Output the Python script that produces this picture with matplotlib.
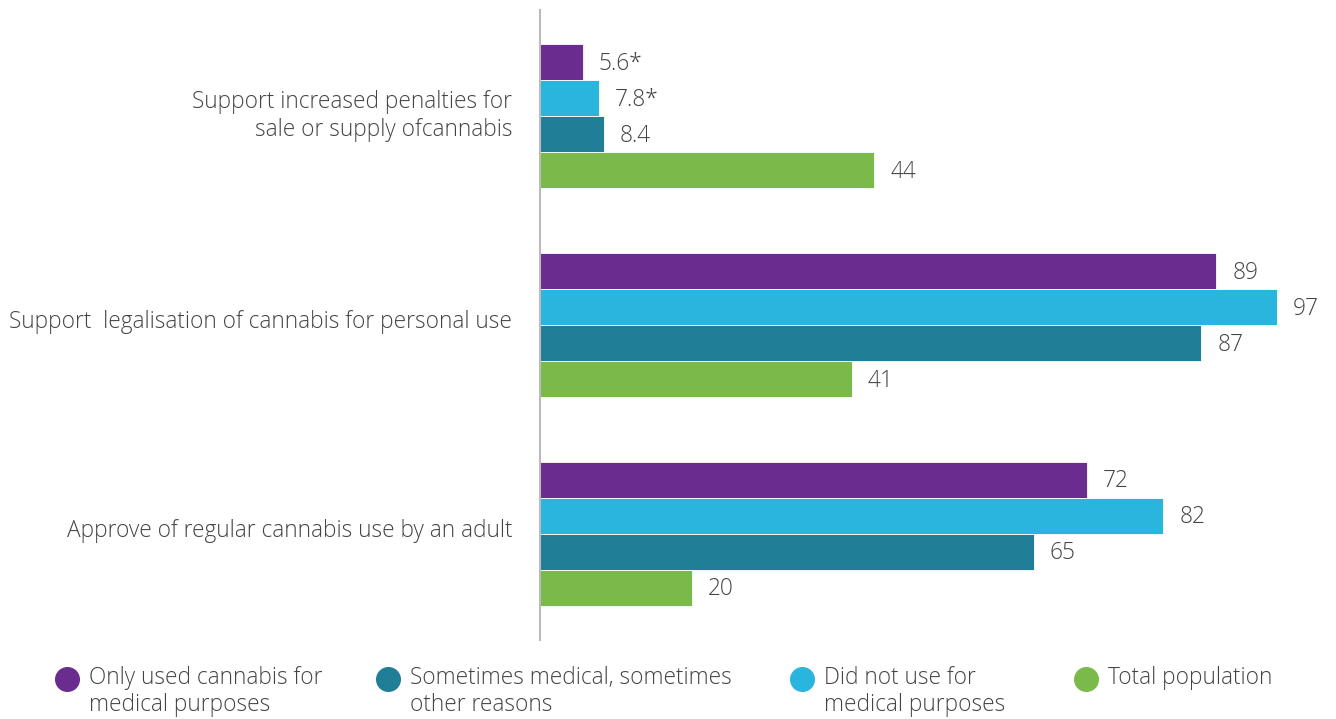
import numpy as np
import matplotlib
matplotlib.use("Agg")
import matplotlib.pyplot as plt
from matplotlib.lines import Line2D

plt.rcParams['font.family'] = ['Open Sans', 'DejaVu Sans']

categories = ["Support increased penalties for\nsale or supply ofcannabis",
              "Support  legalisation of cannabis for personal use",
              "Approve of regular cannabis use by an adult"]
series_names = ["Only used cannabis for\nmedical purposes",
                "Did not use for\nmedical purposes",
                "Sometimes medical, sometimes\nother reasons",
                "Total population"]
only_medical = [5.6, 89, 72]
not_medical = [7.8, 97, 82]
sometimes = [8.4, 87, 65]
total = [44, 41, 20]
value_labels = [["5.6*", "89", "72"],
                ["7.8*", "97", "82"],
                ["8.4", "87", "65"],
                ["44", "41", "20"]]
colors = ["#6a2c8e", "#29b5de", "#217e97", "#7aba4a"]
text_col = "#444444"
fs = 16.3

fig = plt.figure(figsize=(13.36, 7.19), dpi=100)
# axes from x=540 to 1320 px, y=10 to 640 px
ax = fig.add_axes([540/1336, 1 - 640/719, 780/1336, 630/719])

data = [only_medical, not_medical, sometimes, total]
top0 = 34/36.0
gstep = 5.8
for j, vals in enumerate(data):
    for g, v in enumerate(vals):
        yc = top0 + g*gstep + j + 0.5
        ax.barh(yc, v, height=1.0, color=colors[j], edgecolor="white", linewidth=0.6)
        ax.text(v + 2.1, yc + 0.05, value_labels[j][g], va="center", ha="left",
                fontsize=fs, color=text_col, fontweight="light")

ax.set_xlim(0, 780/7.6)
ax.set_ylim(630/36.0, 0)
ax.set_yticks([top0 + g*gstep + 1.85 for g in range(3)])
ax.set_yticklabels(categories, fontsize=fs, color=text_col, fontweight="light",
                   ha="right", linespacing=1.25)
ax.tick_params(axis="y", length=0, pad=20)
ax.set_xticks([])
for s in ["top", "right", "bottom"]:
    ax.spines[s].set_visible(False)
ax.spines["left"].set_color("#bbbbbb")
ax.spines["left"].set_linewidth(1.5)

# legend drawn by hand, order as in the reference
leg_x = [67, 388, 802, 1086]
leg_order = [0, 2, 1, 3]
for x, k in zip(leg_x, leg_order):
    fig.add_artist(Line2D([x/1336], [1 - 679/719], marker="o", markersize=17,
                          color=colors[k], linestyle="none", transform=fig.transFigure))
    fig.text((x + 22)/1336, 1 - 666/719, series_names[k], ha="left", va="top",
             fontsize=fs, color=text_col, fontweight="light", linespacing=1.15)

plt.savefig("out.png", dpi=100)
